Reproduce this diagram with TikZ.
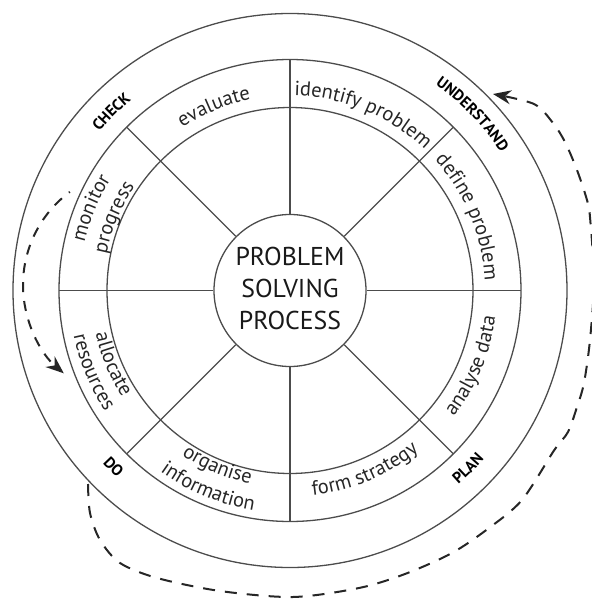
\documentclass[tikz,border=0pt]{standalone}
\usepackage{fontspec}
\setmainfont{PT Sans}
\usetikzlibrary{arrows.meta,decorations.text}

\begin{document}
\begin{tikzpicture}[x=0.5pt,y=0.5pt,
    ring/.style={draw=black!70,line width=0.65pt},
    spoke/.style={draw=black!70,line width=0.65pt},
    seglabel/.style={decorate,decoration={text along path,text align=center,
      text color=black!85,text={|\fontsize{10.2}{12}\selectfont|#1}}},
    stagelabel/.style={decorate,decoration={text along path,text align=center,
      text color=black,text={|\fontsize{7.8}{9}\selectfont\bfseries|#1}}},
    loopback/.style={draw=black!85,line width=1pt,dash pattern=on 5pt off 4.5pt,
      -{Stealth[length=9pt,width=7pt]}}]
  \useasboundingbox (-290,-310.5) rectangle (302,290.5);
  \clip (-290,-310.5) rectangle (302,290.5);
  % rings
  \draw[ring] (0,0) circle[radius=277];
  \draw[ring] (0,0) circle[radius=231];
  \draw[ring] (0,0) circle[radius=183];
  \node[ring,circle,minimum size=76pt,inner sep=0pt] (core) at (0,0) {};
  \node[align=center,font=\fontsize{12.9}{16}\selectfont,text=black!90] (title) at (0,2) {PROBLEM\\SOLVING\\PROCESS};
  \foreach \a in {0,45,...,315}
    \draw[spoke] (core.\a) -- (\a:231);
  % steps, clockwise
  \path[seglabel={evaluate}] (152.5:195) arc[start angle=152.5,end angle=72.5,radius=195];
  \path[seglabel={identify problem}] (107.5:195) arc[start angle=107.5,end angle=27.5,radius=195];
  \path[seglabel={define problem}] (62.5:195) arc[start angle=62.5,end angle=-17.5,radius=195];
  \path[seglabel={monitor}] (197.5:211) arc[start angle=197.5,end angle=117.5,radius=211];
  \path[seglabel={progress}] (197.5:187) arc[start angle=197.5,end angle=117.5,radius=187];
  % steps, counterclockwise
  \path[seglabel={analyse data}] (-62.5:207) arc[start angle=-62.5,end angle=17.5,radius=207];
  \path[seglabel={form strategy}] (-107.5:206) arc[start angle=-107.5,end angle=-27.5,radius=206];
  \path[seglabel={organise}] (207.5:197) arc[start angle=207.5,end angle=287.5,radius=197];
  \path[seglabel={information}] (207.5:223) arc[start angle=207.5,end angle=287.5,radius=223];
  \path[seglabel={allocate}] (162.5:199) arc[start angle=162.5,end angle=242.5,radius=199];
  \path[seglabel={resources}] (162.5:221) arc[start angle=162.5,end angle=242.5,radius=221];
  % stages
  \path[stagelabel={UNDERSTAND}] (80:252) arc[start angle=80,end angle=8,radius=252];
  \path[stagelabel={CHECK}] (170:248) arc[start angle=170,end angle=100,radius=248];
  \path[stagelabel={PLAN}] (-80:257) arc[start angle=-80,end angle=-10,radius=257];
  \path[stagelabel={DO}] (190:255) arc[start angle=190,end angle=260,radius=255];
  % cycle arrows
  \draw[loopback,dash phase=4.4pt] (-151,5.5) ++(126.6:116) arc[start angle=126.6,end angle=229.6,radius=116];
  \draw[loopback,dash pattern=on 6pt off 5pt] plot[smooth] coordinates {
    (-202,-193.5) (-200,-222.5) (-190,-249.5) (-170,-272.5) (-133,-287.5)
    (-70,-300.5) (3,-306.5) (69,-297.5) (115,-283.5) (162,-262.5)
    (199,-237.5) (232,-209.5) (264,-160) (278,-141.5) (287,-116.5)
    (294,-92.5) (300,-49.5) (304,10.5) (300,73.5) (297,90.5)
    (287,120.5) (275,148.5) (263,167.5) (244,186.5) (203,196.5)};
\end{tikzpicture}
\end{document}
